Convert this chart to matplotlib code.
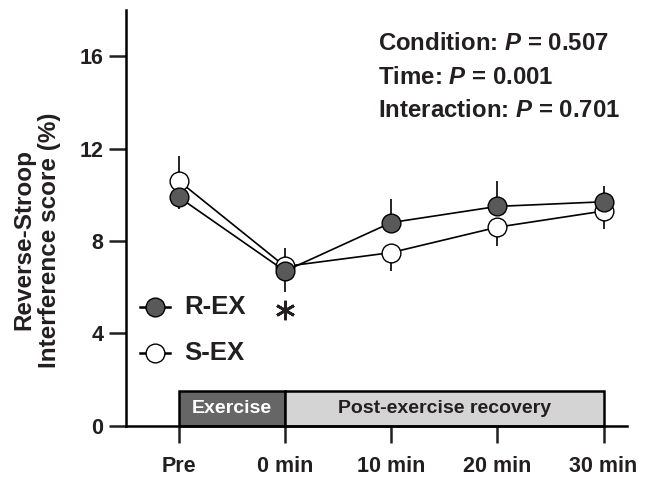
import matplotlib
matplotlib.use("Agg")
import matplotlib.pyplot as plt
from matplotlib.patches import Rectangle

plt.rcParams['font.family'] = ['Liberation Sans', 'DejaVu Sans']
plt.rcParams['font.weight'] = 'bold'
plt.rcParams['mathtext.fontset'] = 'custom'
plt.rcParams['mathtext.it'] = 'Liberation Sans:bold:italic'
plt.rcParams['mathtext.rm'] = 'Liberation Sans:bold'

# data
time_labels = ['Pre', '0 min', '10 min', '20 min', '30 min']
rex_mean = [9.9, 6.7, 8.8, 9.5, 9.7]
rex_err_lo = [0.5, 0.9, 0, 0, 0]
rex_err_hi = [0, 0, 1.0, 1.1, 0.7]
sex_mean = [10.6, 6.9, 7.5, 8.6, 9.3]
sex_err_lo = [0, 0, 0.8, 0.8, 0.8]
sex_err_hi = [1.1, 0.8, 0, 0, 0]
stats_text = ['Condition: $P$ = 0.507', 'Time: $P$ = 0.001', 'Interaction: $P$ = 0.701']
sig_idx = 1  # asterisk under 0 min

ink = '#231f20'
x = list(range(len(time_labels)))

fig = plt.figure(figsize=(6.45, 4.79), dpi=100)
ax = fig.add_axes([0.195, 0.111, 0.777, 0.868])

# phase bar on the x axis
ax.add_patch(Rectangle((0, 0), 1, 1.5, facecolor='#666666', edgecolor='black', lw=1.8, zorder=2, clip_on=False))
ax.add_patch(Rectangle((1, 0), 3, 1.5, facecolor='#d4d4d4', edgecolor='black', lw=1.8, zorder=2, clip_on=False))
ax.text(0.5, 0.75, 'Exercise', color='white', ha='center', va='center', fontsize=14, fontweight='bold', zorder=3)
ax.text(2.5, 0.75, 'Post-exercise recovery', color=ink, ha='center', va='center', fontsize=14, fontweight='bold', zorder=3)

ax.errorbar(x, sex_mean, yerr=[sex_err_lo, sex_err_hi], fmt='none', ecolor='black', elinewidth=1.2, capsize=0, zorder=4)
ax.errorbar(x, rex_mean, yerr=[rex_err_lo, rex_err_hi], fmt='none', ecolor='black', elinewidth=1.2, capsize=0, zorder=4)
ax.plot(x, sex_mean, '-o', color='black', lw=1.2, markersize=13.5, markerfacecolor='white',
        markeredgecolor='black', markeredgewidth=1.0, zorder=5)
ax.plot(x, rex_mean, '-o', color='black', lw=1.2, markersize=13.5, markerfacecolor='#595959',
        markeredgecolor='black', markeredgewidth=1.0, zorder=6)

# significance mark
ax.plot([x[sig_idx]], [5.0], marker=(6, 2, 0), markersize=14, markeredgewidth=2.0, color=ink, linestyle='none')

# legend drawn by hand
for ly, fc, lab in [(5.15, '#595959', 'R-EX'), (3.15, 'white', 'S-EX')]:
    ax.plot([-0.37, -0.08], [ly, ly], color='black', lw=1.8, clip_on=False)
    ax.plot([-0.225], [ly], 'o', markersize=13.5, markerfacecolor=fc, markeredgecolor='black', clip_on=False)
    ax.text(0.05, ly, lab, ha='left', va='center', fontsize=18.5, fontweight='bold', color=ink)

for i, s in enumerate(stats_text):
    ax.text(1.88, 16.55 - i * 1.45, s, ha='left', va='center', fontsize=17.3, fontweight='bold', color=ink)

ax.set_xlim(-0.5, 4.22)
ax.set_ylim(0, 18)
ax.set_yticks([0, 4, 8, 12, 16])
ax.set_xticks(x)
ax.set_xticklabels(time_labels)
ax.tick_params(axis='both', direction='out', length=12, width=1.8, labelsize=15.5, colors=ink, pad=4)
ax.tick_params(axis='x', pad=10)
for sp in ['top', 'right']:
    ax.spines[sp].set_visible(False)
for sp in ['left', 'bottom']:
    ax.spines[sp].set_linewidth(1.8)
ax.set_ylabel('Reverse-Stroop\nInterference score (%)', fontsize=17.5, fontweight='bold', color=ink,
              linespacing=1.15)
ax.yaxis.set_label_coords(-0.13, 0.447)

fig.savefig('out.png', dpi=100)
